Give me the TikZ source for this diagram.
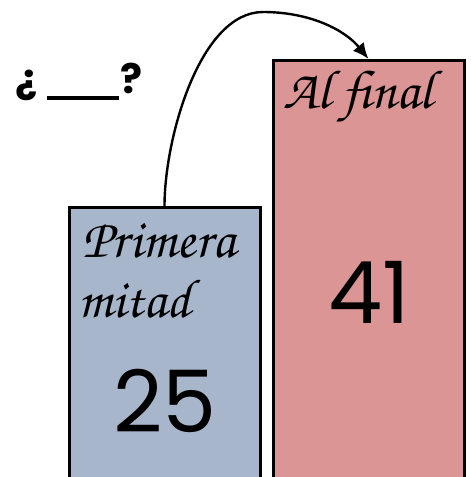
\documentclass[tikz,border=0pt]{standalone}
\usepackage{fontspec}
\setsansfont{Poppins}
\newfontfamily\cursivefont{texgyrechorus-mediumitalic.otf}
\usetikzlibrary{arrows.meta}
\definecolor{mitadblue}{RGB}{167,182,202}
\definecolor{finalpink}{RGB}{218,149,148}

\begin{document}
\begin{tikzpicture}[x=1pt, y=-1pt,
  bar/.style={draw, line width=3pt, minimum width=191pt, inner sep=0pt},
  word/.style={anchor=base west, inner sep=0pt, font=\cursivefont\fontsize{55}{55}\selectfont},
  number/.style={inner sep=0pt, font=\sffamily\fontsize{86}{86}\selectfont}]
\clip (0,0) rectangle (471,477);
\node[bar, fill=mitadblue, minimum height=275pt] (first) at (164.5,345) {};
\node[bar, fill=finalpink, minimum height=422pt] (final) at (368.5,271.5) {};
\node[word] (primera) at (82,257) {Primera};
\node[word] (mitad) at (78,317) {mitad};
\node[word] (alfinal) at (283,108) {Al final};
\node[number] (firstvalue) at (165,401) {25};
\node[number] (finalvalue) at (369,292) {41};
\node[anchor=base west, inner sep=0pt, font=\sffamily\bfseries\fontsize{41}{41}\selectfont] (question) at (15,93) {¿\hspace{10pt}\rule[-7pt]{72pt}{4pt}\hspace{1pt}?};
\coordinate (peak) at (263,12);
\draw[line width=2.4pt, -{Latex[length=16pt,width=14pt]}] (first.north) .. controls +(0,-68) and (200,12) .. (peak) .. controls (310,12) and (345,30) .. (final.north);
\end{tikzpicture}
\end{document}
